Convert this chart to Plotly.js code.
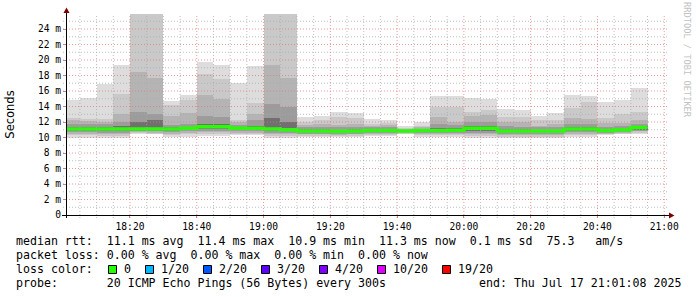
<!DOCTYPE html>
<html><head><meta charset="utf-8">
<script src="https://cdn.plot.ly/plotly-3.0.1.min.js"></script>
<style>html,body{margin:0;padding:0;background:#fff}#chart{width:697px;height:297px}</style>
</head><body><div id="chart"></div>
<script>
// interval start times (5-minute steps)
const intervalStart = ["18:00","18:05","18:10","18:15","18:20","18:25","18:30","18:35","18:40","18:45","18:50","18:55",
  "19:00","19:05","19:10","19:15","19:20","19:25","19:30","19:35","19:40","19:45","19:50","19:55",
  "20:00","20:05","20:10","20:15","20:20","20:25","20:30","20:35","20:40","20:45","20:50"];
// smoke bands (ms): outer -> inner, upper edges
const hi1 = [14.9,15.1,16.9,19.35,30,30,14.75,15.5,19.8,19.4,17.1,19.2,30,30,12.7,12.8,13.3,13.1,12.35,12.2,11.5,12.0,15.35,15.35,15.1,14.95,13.7,13.55,12.8,13.1,15.5,15.35,14.6,14.9,16.4];
const hi2 = [12.5,12.4,12.4,15.6,28,28,14.2,14.8,18.2,17.5,12.3,14.5,28,28,12.0,12.3,12.7,12.5,11.8,11.9,11.2,11.5,13.9,13.9,13.3,13.5,12.7,12.6,12.2,12.3,13.8,14.6,12.5,13.0,13.3];
const hi3 = [12.2,12.1,12.0,13.0,18.5,17.7,12.8,13.2,15.5,15.0,12.0,13.0,19.4,17.7,11.6,11.8,11.6,11.8,11.5,11.6,11.1,11.3,12.7,12.0,12.8,12.9,12.0,12.0,11.5,11.7,12.5,12.4,11.9,11.9,12.2];
const hi4 = [11.8,11.8,11.7,12.0,13.3,13.0,11.6,11.7,12.8,12.7,11.6,12.3,14.3,14.0,11.3,11.4,11.3,11.4,11.3,11.3,11.0,11.1,11.8,11.6,12.0,12.0,11.5,11.4,11.3,11.3,11.8,11.8,11.4,11.5,11.8];
const hi5 = [11.4,11.4,11.4,11.5,12.0,12.2,11.3,11.4,11.7,11.7,11.4,11.5,12.5,12.0,11.1,11.1,11.0,11.1,11.1,11.1,10.9,11.0,11.2,11.2,11.5,11.5,11.1,11.1,11.0,11.0,11.3,11.3,11.1,11.2,11.5];
// lower edges
const lo5 = [10.9,10.9,10.9,10.9,10.9,10.9,10.9,11.0,11.1,11.1,11.0,11.0,10.8,10.8,10.65,10.65,10.6,10.65,10.7,10.7,10.75,10.7,10.7,10.7,10.9,10.9,10.7,10.7,10.7,10.7,10.9,10.9,10.7,10.8,11.0];
const lo4 = [10.7,10.7,10.6,10.6,10.8,10.8,10.7,10.8,10.9,10.9,10.8,10.8,10.6,10.6,10.5,10.5,10.4,10.5,10.6,10.6,10.7,10.6,10.6,10.6,10.6,10.6,10.5,10.5,10.5,10.5,10.7,10.7,10.6,10.7,10.9];
const lo3 = [10.5,10.5,10.4,10.4,10.7,10.6,10.5,10.6,10.7,10.7,10.6,10.6,10.4,10.4,10.4,10.4,10.3,10.4,10.5,10.5,10.6,10.5,10.5,10.5,10.4,10.4,10.3,10.3,10.3,10.3,10.5,10.5,10.5,10.6,10.8];
const lo2 = [10.3,10.3,10.2,10.2,10.6,10.5,10.3,10.4,10.5,10.5,10.5,10.5,10.2,10.2,10.2,10.2,10.2,10.2,10.3,10.3,10.5,10.3,10.3,10.3,10.2,10.2,10.1,10.1,10.1,10.1,10.3,10.3,10.4,10.5,10.6];
const lo1 = [10.0,10.0,10.0,10.0,10.5,10.4,10.1,10.1,10.2,10.2,10.3,10.3,10.0,10.0,10.1,10.1,10.1,10.1,10.2,10.2,10.45,10.1,10.1,10.1,9.9,9.9,10.0,10.0,10.0,10.0,10.1,10.1,10.3,10.4,10.5];
const median = [11.1,11.1,11.1,11.1,11.1,11.1,11.1,11.2,11.4,11.4,11.2,11.2,11.1,11.0,10.85,10.85,10.8,10.85,10.9,10.9,10.85,10.9,10.9,10.95,11.2,11.2,10.85,10.85,10.85,10.85,11.1,11.1,10.9,11.0,11.3];

const yTickVals = [0,2,4,6,8,10,12,14,16,18,20,22,24];
const yTickText = ["0","2 m","4 m","6 m","8 m","10 m","12 m","14 m","16 m","18 m","20 m","22 m","24 m"];
const statsLine1 = "median rtt:  11.1 ms avg  11.4 ms max  10.9 ms min  11.3 ms now  0.1 ms sd  75.3   am/s";
const statsLine2 = "packet loss: 0.00 % avg  0.00 % max  0.00 % min  0.00 % now";
const statsLine3 = "loss color:";
const statsLine4 = "probe:       20 ICMP Echo Pings (56 Bytes) every 300s";
const endLabel = "end: Thu Jul 17 21:01:08 2025";
const lossLabels = ["0","1/20","2/20","3/20","4/20","10/20","19/20"];
const lossColors = ["#26ff00","#00b8ff","#0059ff","#5e00ff","#7e00ff","#dd00ff","#ff0000"];
const watermark = "RRDTOOL / TOBI OETIKER";

// ---- geometry helpers ----
const W = 697, H = 297, L = 67, R = 29, T = 14, B = 82;
const PW = W - L - R, PH = H - T - B;
const px = x => (x - L) / PW;
const py = y => (H - B - y) / PH;
const nb = s => s.replace(/ /g, "\u00a0");

function utc(t, addSec) {
  const [h, m] = t.split(":").map(Number);
  return Date.UTC(2025, 6, 17, h, m, 0) + (addSec || 0) * 1000;
}
const STEP = 300000;
const centers = intervalStart.map(t => utc(t, 150));
const xStart = Date.UTC(2025, 6, 17, 18, 1, 8);
const xEnd = Date.UTC(2025, 6, 17, 21, 1, 8);

const bands = [[lo1, hi1, "#dddddd"], [lo2, hi2, "#c9c9c9"], [lo3, hi3, "#b4b4b4"], [lo4, hi4, "#9c9c9c"], [lo5, hi5, "#707070"]];
const traces = bands.map(([lo, hi, col]) => ({
  type: "bar", x: centers, base: lo, y: hi.map((v, i) => v - lo[i]), width: STEP,
  marker: { color: col, line: { width: 0 } }, hoverinfo: "skip", showlegend: false
}));
const mx = intervalStart.map(t => utc(t, 0));
mx.push(mx[mx.length - 1] + STEP);
const my = median.slice(); my.push(median[median.length - 1]);
traces.push({ type: "scatter", mode: "lines", x: mx, y: my, line: { shape: "hv", color: "#26ff00", width: 3.5 }, hoverinfo: "skip", showlegend: false });

// grid as shapes (drawn above the smoke, like rrdtool)
const shapes = [];
const yMax = 25.94;
for (let v = 1; v < yMax; v++) {
  const major = v % 2 === 0;
  shapes.push({ type: "line", layer: "above", xref: "paper", yref: "y", x0: px(63), x1: 1, y0: v, y1: v,
    line: { color: major ? "rgba(230,120,120,0.75)" : "rgba(170,170,170,0.75)", width: 1, dash: "1px,2px" } });
}
for (let t = Date.UTC(2025, 6, 17, 18, 5); t < xEnd; t += STEP) {
  const major = ((t - Date.UTC(2025, 6, 17, 18, 0)) / STEP) % 4 === 0;
  shapes.push({ type: "line", layer: "above", xref: "x", yref: "paper", x0: t, x1: t, y0: py(218), y1: 1,
    line: { color: major ? "rgba(230,120,120,0.75)" : "rgba(170,170,170,0.75)", width: 1, dash: "1px,2px" } });
}
// axes lines & arrows
shapes.push({ type: "line", layer: "above", xref: "paper", yref: "paper", x0: px(62), x1: px(670), y0: py(215.5), y1: py(215.5), line: { color: "#000", width: 1 } });
shapes.push({ type: "line", layer: "above", xref: "paper", yref: "paper", x0: px(66.5), x1: px(66.5), y0: py(218), y1: py(11), line: { color: "#000", width: 1 } });
shapes.push({ type: "path", layer: "above", xref: "paper", yref: "paper",
  path: `M${px(63.5)},${py(13)} L${px(69.5)},${py(13)} L${px(66.5)},${py(7.5)} Z`, fillcolor: "#7a0000", line: { width: 0 } });
shapes.push({ type: "path", layer: "above", xref: "paper", yref: "paper",
  path: `M${px(669)},${py(212.5)} L${px(669)},${py(218.5)} L${px(674.5)},${py(215.5)} Z`, fillcolor: "#7a0000", line: { width: 0 } });

const mono = "DejaVu Sans Mono";
const annotations = [];
const row = (text, y, x, anchor) => annotations.push({ xref: "paper", yref: "paper", x: px(x), y: py(y), xanchor: anchor || "left", yanchor: "middle",
  text: nb(text), showarrow: false, borderpad: 0, font: { family: mono, size: 11.6, color: "#000" } });
row(statsLine1, 241, 15);
row(statsLine2, 255, 15);
row(statsLine3, 269, 15);
row(statsLine4, 283, 15);
row(endLabel, 283, 682, "right");
let sx = 108;
lossLabels.forEach((lab, i) => {
  shapes.push({ type: "rect", xref: "paper", yref: "paper", x0: px(sx + 0.5), x1: px(sx + 8.5), y0: py(265.5), y1: py(273.5),
    fillcolor: lossColors[i], line: { color: "#000", width: 1 } });
  row(lab, 269, sx + 15);
  sx = sx + 15 + lab.length * 7 + 15;
});
annotations.push({ xref: "paper", yref: "paper", x: px(687), y: py(60), xanchor: "center", yanchor: "middle", textangle: 90,
  text: nb(watermark), showarrow: false, font: { family: mono, size: 8.7, color: "#c2c2c2" } });

const tickFont = { family: mono, size: 9.6, color: "#000" };
const layout = {
  width: W, height: H, margin: { l: L, r: R, t: T, b: B, pad: 0 },
  paper_bgcolor: "#fff", plot_bgcolor: "#fff", barmode: "overlay", bargap: 0, showlegend: false,
  xaxis: { type: "date", range: [xStart, xEnd], tick0: Date.UTC(2025, 6, 17, 18, 0), dtick: 1200000, tickformat: "%H:%M",
    showgrid: false, zeroline: false, showline: false, ticks: "outside", ticklen: 2, tickcolor: "#d08080", tickfont: tickFont,
    fixedrange: true },
  yaxis: { range: [0, yMax], tickvals: yTickVals, ticktext: yTickText, showgrid: false, zeroline: false, showline: false,
    ticks: "outside", ticklen: 3, tickcolor: "#d08080", tickfont: tickFont, fixedrange: true,
    title: { text: "Seconds", font: { family: "DejaVu Sans", size: 11.5, color: "#000" }, standoff: 20 } },
  shapes, annotations
};
Plotly.newPlot("chart", traces, layout, { staticPlot: true, displayModeBar: false });
</script></body></html>
